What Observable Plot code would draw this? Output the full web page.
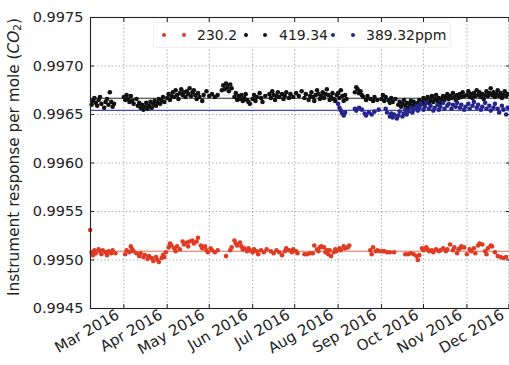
<!DOCTYPE html>
<html>
<head>
<meta charset="utf-8">
<script src="https://cdn.jsdelivr.net/npm/d3@7"></script>
<script src="https://cdn.jsdelivr.net/npm/@observablehq/plot@0.6"></script>
<style>
  body { margin: 0; background: #fff; }
  #chart { position: relative; width: 509px; height: 365px; overflow: hidden; font-family: "DejaVu Sans", sans-serif; }
  .legend { position: absolute; left: 153px; top: 22px; width: 296px; height: 24px; border: 1px solid #eeeeee; border-radius: 3px; background: rgba(255,255,255,0.85); }
  .legend span { position: absolute; top: 3px; font-size: 14px; color: #222; line-height: 18px; }
  .legend i { position: absolute; top: 10px; width: 4px; height: 4px; border-radius: 50%; }
</style>
</head>
<body>
<div id="chart"></div>
<script>
// Daily instrument response per mole of CO2 for three reference tanks, 2016.
// Each entry: [day of year 2016, response]
const seriesNames = ["230.2", "419.34", "389.32ppm"];
const seriesColors = ["#e03a22", "#111111", "#24248c"];
const meanLineColors = ["#f0695a", "#2a2a2a", "#4646d2"];
const meanValues = [0.99509, 0.996668, 0.996542];

const red = [
  [37,0.99531],[38,0.99508],[39,0.99505],[40,0.99510],[41,0.99507],[43,0.99511],[44,0.99509],[45,0.99506],
  [46,0.99510],[48,0.99508],[49,0.99505],[50,0.99509],[52,0.99507],[53,0.99510],[55,0.99507],
  [62,0.99506],[63,0.99510],[65,0.99508],[66,0.99514],[67,0.99511],[68,0.99509],[70,0.99507],[72,0.99504],
  [73,0.99507],[75,0.99503],[76,0.99505],[78,0.99501],[79,0.99504],[81,0.99502],[82,0.99499],[84,0.99503],
  [85,0.99500],[86,0.99498],[88,0.99502],[89,0.99505],[90,0.99503],[91,0.99508],[93,0.99513],[94,0.99517],
  [95,0.99515],[97,0.99512],[98,0.99509],[99,0.99514],[101,0.99511],[103,0.99519],[104,0.99516],[106,0.99518],
  [107,0.99514],[108,0.99519],[110,0.99520],[111,0.99517],[113,0.99519],[114,0.99523],[116,0.99515],[117,0.99512],
  [119,0.99514],[120,0.99510],[121,0.99508],[123,0.99512],[124,0.99510],[126,0.99508],[128,0.99510],
  [134,0.99504],[137,0.99510],[138,0.99513],[140,0.99520],[141,0.99517],[142,0.99515],[144,0.99518],[145,0.99514],
  [146,0.99511],[147,0.99512],[149,0.99509],[150,0.99512],[151,0.99510],[153,0.99508],[154,0.99511],[156,0.99509],
  [157,0.99506],[159,0.99510],[161,0.99508],[163,0.99511],[166,0.99509],[168,0.99507],[170,0.99510],[172,0.99508],
  [174,0.99505],[176,0.99509],[177,0.99512],[179,0.99510],[181,0.99508],[182,0.99511],[184,0.99509],[185,0.99507],
  [190,0.99506],[192,0.99506],[194,0.99507],[196,0.99507],[197,0.99515],[199,0.99511],[200,0.99509],[201,0.99513],
  [202,0.99514],[204,0.99513],[205,0.99508],[206,0.99510],[207,0.99506],[208,0.99510],[209,0.99504],[211,0.99508],
  [212,0.99511],[213,0.99509],[215,0.99512],[216,0.99510],[218,0.99514],[219,0.99512],[221,0.99513],[222,0.99515],
  [237,0.99510],[238,0.99506],[239,0.99513],[241,0.99509],[242,0.99510],[244,0.99509],[246,0.99509],[247,0.99509],
  [249,0.99508],[251,0.99508],[254,0.99508],[262,0.99506],[264,0.99506],[266,0.99507],[268,0.99506],[270,0.99504],
  [271,0.99500],[272,0.99505],[274,0.99512],[275,0.99510],[277,0.99513],[278,0.99511],[279,0.99509],[281,0.99510],
  [282,0.99508],[284,0.99511],[286,0.99509],[287,0.99510],[289,0.99512],[291,0.99509],[292,0.99511],[294,0.99516],
  [296,0.99510],[297,0.99513],[299,0.99507],[300,0.99511],[301,0.99512],[302,0.99514],[304,0.99513],[306,0.99506],
  [308,0.99511],[309,0.99509],[311,0.99512],[312,0.99507],[314,0.99515],[315,0.99517],[317,0.99516],[319,0.99509],
  [320,0.99506],[321,0.99512],[323,0.99515],[324,0.99514],[326,0.99508],[328,0.99504],[330,0.99503],[332,0.99502],
  [334,0.99503]
];

const black = [
  [38,0.99660],[39,0.99664],[40,0.99667],[41,0.99662],[42,0.99659],[43,0.99665],[44,0.99668],[45,0.99661],
  [47,0.99657],[48,0.99663],[49,0.99666],[50,0.99660],[51,0.99673],[52,0.99663],[53,0.99658],[54,0.99661],
  [61,0.99668],[62,0.99665],[63,0.99670],[64,0.99666],[65,0.99663],[66,0.99669],[67,0.99664],[68,0.99661],
  [70,0.99666],[71,0.99659],[72,0.99662],[73,0.99657],[74,0.99660],[75,0.99655],[76,0.99658],[77,0.99662],
  [78,0.99656],[79,0.99659],[80,0.99663],[81,0.99657],[82,0.99661],[83,0.99664],[84,0.99659],[85,0.99662],
  [86,0.99666],[87,0.99661],[88,0.99664],[89,0.99668],[90,0.99663],
  [92,0.99667],[93,0.99671],[94,0.99665],[95,0.99669],[96,0.99673],[97,0.99668],[98,0.99675],[99,0.99670],
  [100,0.99666],[101,0.99672],[102,0.99676],[103,0.99670],[104,0.99673],[105,0.99668],[106,0.99674],[107,0.99671],
  [108,0.99677],[109,0.99669],[110,0.99673],[111,0.99675],[112,0.99670],[113,0.99666],[114,0.99672],[115,0.99668],
  [117,0.99664],[118,0.99670],[120,0.99674],
  [122,0.99669],[124,0.99671],[126,0.99668],[128,0.99670],[131,0.99675],[132,0.99680],[133,0.99676],[134,0.99682],
  [135,0.99678],[136,0.99674],[137,0.99681],[138,0.99677],[140,0.99668],[141,0.99672],[142,0.99665],[143,0.99669],
  [144,0.99666],[145,0.99670],[146,0.99664],[147,0.99667],[148,0.99671],[149,0.99665],[150,0.99663],[151,0.99661],
  [153,0.99666],[154,0.99670],[155,0.99664],[156,0.99668],[158,0.99672],[159,0.99667],[160,0.99663],[162,0.99669],
  [165,0.99671],[166,0.99667],[167,0.99674],[168,0.99670],[169,0.99665],[170,0.99669],[171,0.99673],[172,0.99668],
  [174,0.99671],[175,0.99666],[176,0.99669],[177,0.99673],[179,0.99667],[180,0.99671],[182,0.99668],
  [184,0.99672],[186,0.99669],[188,0.99674],[190,0.99667],[191,0.99671],[193,0.99665],[194,0.99669],[195,0.99673],
  [196,0.99668],[197,0.99664],[198,0.99670],[199,0.99675],[200,0.99671],[201,0.99666],[202,0.99669],[203,0.99673],
  [204,0.99667],[205,0.99671],[206,0.99676],[207,0.99670],[208,0.99665],[209,0.99668],[210,0.99672],[211,0.99666],
  [212,0.99664],[213,0.99670],
  [214,0.99672],[215,0.99667],[216,0.99675],[217,0.99669],[218,0.99664],[219,0.99670],[220,0.99666],
  [226,0.99673],[227,0.99678],[228,0.99676],[229,0.99672],[230,0.99674],[231,0.99670],[232,0.99668],[234,0.99665],
  [235,0.99669],[237,0.99666],[239,0.99664],[240,0.99668],[242,0.99665],
  [245,0.99666],[246,0.99670],[247,0.99664],[248,0.99668],[250,0.99665],[251,0.99662],[252,0.99667],[253,0.99663],
  [255,0.99666],[257,0.99660],[258,0.99663],[259,0.99658],[260,0.99661],[261,0.99665],[262,0.99659],[263,0.99662],
  [264,0.99657],[265,0.99661],[266,0.99664],[267,0.99659],[268,0.99663],[269,0.99660],[270,0.99658],[271,0.99662],
  [272,0.99665],[273,0.99660],[274,0.99663],
  [275,0.99667],[276,0.99661],[277,0.99664],[278,0.99668],[279,0.99662],[280,0.99665],[281,0.99669],[282,0.99663],
  [283,0.99666],[284,0.99670],[285,0.99664],[286,0.99667],[287,0.99662],[288,0.99666],[289,0.99669],[290,0.99665],
  [291,0.99668],[292,0.99671],[293,0.99666],[294,0.99669],[295,0.99667],[296,0.99672],[297,0.99668],[298,0.99665],
  [299,0.99670],[300,0.99667],[301,0.99671],[302,0.99668],[303,0.99673],[304,0.99669],
  [306,0.99670],[307,0.99674],[308,0.99668],[309,0.99671],[310,0.99667],[311,0.99672],[312,0.99669],[313,0.99675],
  [314,0.99670],[315,0.99673],[316,0.99668],[317,0.99671],[318,0.99666],[319,0.99670],[320,0.99674],[321,0.99669],
  [322,0.99672],[323,0.99677],[324,0.99670],[325,0.99673],[326,0.99668],[327,0.99671],[328,0.99675],[329,0.99669],
  [330,0.99672],[331,0.99667],[332,0.99670],[333,0.99674],[334,0.99669],[335,0.99671]
];

const blue = [
  [214,0.99661],[215,0.99657],[216,0.99654],[217,0.99651],[218,0.99649],[219,0.99652],
  [226,0.99656],[227,0.99654],[229,0.99657],[231,0.99655],[233,0.99651],[234,0.99649],[236,0.99652],[238,0.99650],
  [240,0.99653],[243,0.99655],[248,0.99656],[249,0.99652],[251,0.99648],[252,0.99651],[253,0.99647],[254,0.99650],
  [256,0.99646],[257,0.99649],[258,0.99653],[260,0.99648],[261,0.99651],[262,0.99655],[263,0.99650],[264,0.99653],
  [266,0.99657],[267,0.99652],[268,0.99655],[270,0.99659],[271,0.99654],[272,0.99657],[273,0.99661],[275,0.99655],
  [276,0.99658],[277,0.99662],[279,0.99656],[280,0.99659],[282,0.99654],[283,0.99657],[285,0.99660],[286,0.99655],
  [287,0.99658],[289,0.99662],[290,0.99656],[292,0.99659],[293,0.99661],[295,0.99656],[296,0.99660],[298,0.99658],
  [299,0.99662],[301,0.99657],[302,0.99660],[304,0.99655],[305,0.99658],[307,0.99661],[308,0.99656],[310,0.99659],
  [311,0.99663],[313,0.99657],[314,0.99660],[316,0.99655],[317,0.99658],[319,0.99662],[320,0.99656],[322,0.99659],
  [323,0.99654],[325,0.99657],[326,0.99661],[328,0.99656],[329,0.99652],[331,0.99659],[332,0.99655],[334,0.99650],
  [335,0.99657]
];

const monthTicks = ["2016-03-01","2016-04-01","2016-05-01","2016-06-01","2016-07-01","2016-08-01",
                    "2016-09-01","2016-10-01","2016-11-01","2016-12-01"];
const yTicks = [0.9945, 0.9950, 0.9955, 0.9960, 0.9965, 0.9970, 0.9975];

const dayToDate = d => new Date(Date.UTC(2016, 0, d));
const toRows = (series, name) => series.map(([d, v]) => ({date: dayToDate(d), value: v, series: name}));
const monthDates = monthTicks.map(s => new Date(s + "T00:00:00Z"));
const monthFormat = d3.utcFormat("%b %Y");

const grid = {stroke: "#8a8a8a", strokeOpacity: 0.9, strokeDasharray: "1.2,2.4", strokeWidth: 0.9};

const chart = Plot.plot({
  width: 509,
  height: 365,
  marginLeft: 90,
  marginRight: 0,
  marginTop: 17,
  marginBottom: 57,
  style: {fontFamily: "DejaVu Sans", fontSize: "14.5px", color: "#222", background: "#fff"},
  x: {type: "utc", domain: [new Date(Date.UTC(2016, 1, 6, 5)), new Date(Date.UTC(2016, 11, 1, 10))]},
  y: {domain: [0.9945, 0.9975]},
  marks: [
    Plot.gridX(monthDates, grid),
    Plot.gridY(yTicks, grid),
    Plot.ruleY([meanValues[0]], {stroke: meanLineColors[0], strokeWidth: 1.1}),
    Plot.ruleY([meanValues[1]], {stroke: meanLineColors[1], strokeWidth: 1.1}),
    Plot.ruleY([meanValues[2]], {stroke: meanLineColors[2], strokeWidth: 1.3}),
    Plot.dot(toRows(red, seriesNames[0]), {x: "date", y: "value", r: 2.3, fill: seriesColors[0]}),
    Plot.dot(toRows(black, seriesNames[1]), {x: "date", y: "value", r: 2.3, fill: seriesColors[1]}),
    Plot.dot(toRows(blue, seriesNames[2]), {x: "date", y: "value", r: 2.3, fill: seriesColors[2]}),
    // inward ticks on all four sides
    Plot.axisX(monthDates, {anchor: "bottom", tickFormat: () => "", tickSize: -4, label: null}),
    Plot.axisX(monthDates, {anchor: "top", tickFormat: () => "", tickSize: -4, label: null}),
    Plot.axisY(yTicks, {anchor: "left", tickFormat: d3.format(".4f"), tickSize: -4, tickPadding: 11, label: null, fill: "#222"}),
    Plot.axisY(yTicks, {anchor: "right", tickFormat: () => "", tickSize: -4, label: null}),
    // slanted month labels hanging from each tick
    Plot.text(monthDates, {
      x: d => d, frameAnchor: "bottom", text: d => monthFormat(d), fontSize: 15,
      rotate: -30, textAnchor: "end", lineAnchor: "middle", dx: -6, dy: 5, fill: "#222"
    }),
    Plot.frame({stroke: "#222", strokeWidth: 1.1})
  ]
});

// Rotated y-axis title with an italic, subscripted CO2
const svg = d3.select(chart);
const title = svg.append("text")
  .attr("transform", "translate(14,157) rotate(-90)")
  .attr("text-anchor", "middle")
  .attr("dominant-baseline", "central")
  .attr("fill", "#222")
  .style("font-size", "15.3px");
title.append("tspan").text("Instrument response per mole (");
title.append("tspan").attr("font-style", "italic").text("CO");
title.append("tspan").attr("font-size", "10.5px").attr("dy", "3").text("2");
title.append("tspan").attr("dy", "-3").text(")");

const root = document.getElementById("chart");
root.appendChild(chart);

// Legend: two sample dots per series followed by its label
const legend = document.createElement("div");
legend.className = "legend";
const layout = [[8, 28, 43], [90, 109, 125], [177, 197, 212]];
seriesNames.forEach((name, i) => {
  const [d1, d2, t] = layout[i];
  for (const left of [d1, d2]) {
    const dot = document.createElement("i");
    dot.style.left = left + "px";
    dot.style.background = seriesColors[i];
    legend.appendChild(dot);
  }
  const label = document.createElement("span");
  label.style.left = t + "px";
  label.textContent = name;
  legend.appendChild(label);
});
root.appendChild(legend);
</script>
</body>
</html>
